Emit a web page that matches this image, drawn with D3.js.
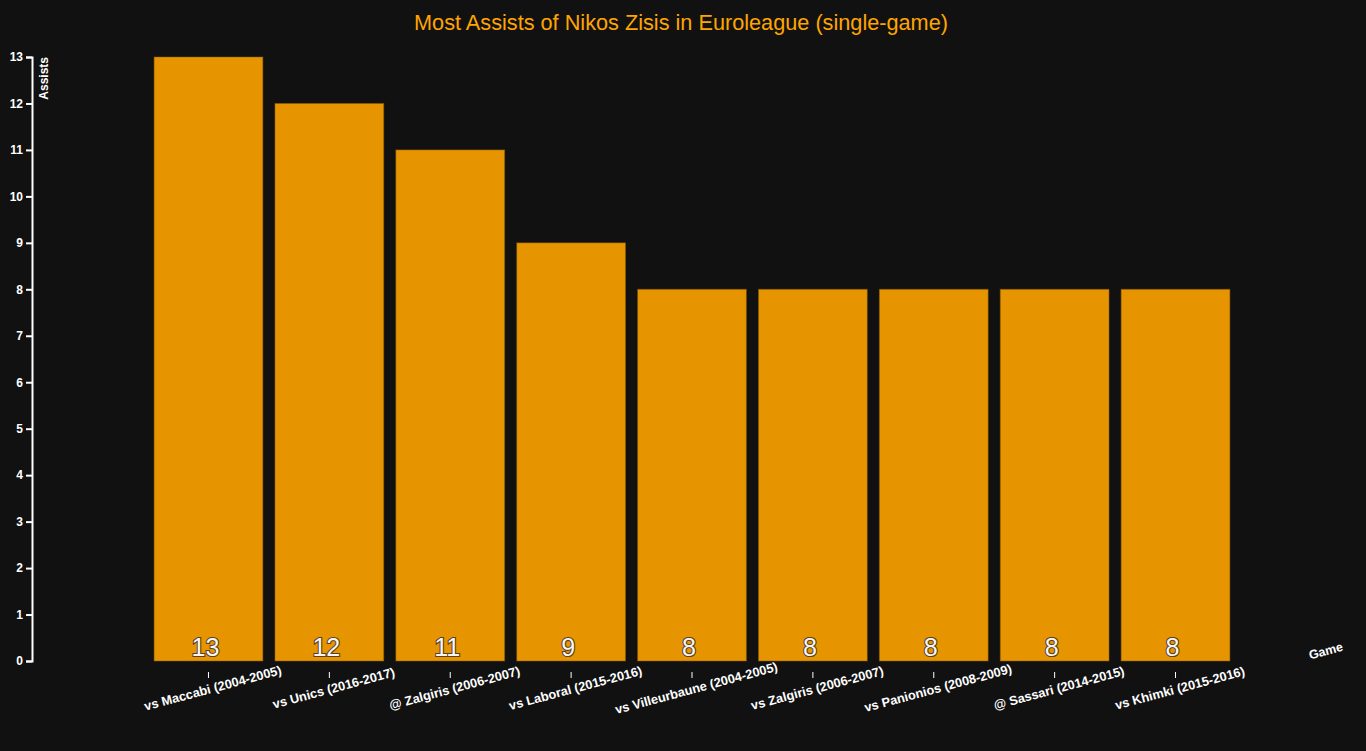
<!DOCTYPE html>
<html>
<head>
<meta charset="utf-8">
<script src="https://cdn.jsdelivr.net/npm/d3@7"></script>
<style>
  html, body { margin: 0; padding: 0; background: #111111; overflow: hidden; }
  svg { display: block; }
  text { font-family: "Liberation Sans", Arial, sans-serif; }
</style>
</head>
<body>
<div class="bar_area"></div>
<script>
var games = ["vs Maccabi (2004-2005)", "vs Unics (2016-2017)", "@ Zalgiris (2006-2007)",
    "vs Laboral (2015-2016)", "vs Villeurbaune (2004-2005)", "vs Zalgiris (2006-2007)",
    "vs Panionios (2008-2009)", "@ Sassari (2014-2015)", "vs Khimki (2015-2016)"];
var assists = [13, 12, 11, 9, 8, 8, 8, 8, 8];
var yTicks = [0, 1, 2, 3, 4, 5, 6, 7, 8, 9, 10, 11, 12, 13];

var width = 1366, height = 751;
var margin = { top: 57, right: 124, bottom: 90, left: 32 },
    w = width - margin.left - margin.right,
    h = height - margin.top - margin.bottom;

var svg = d3.select(".bar_area")
    .append("svg")
    .attr("width", width)
    .attr("height", height);

var g = svg.append("g")
    .attr("transform", "translate(" + margin.left + "," + margin.top + ")");

var data = games.map(function (d, i) { return [d, assists[i]]; });

// title
svg.append("text")
    .attr("x", 681)
    .attr("y", 30)
    .attr("text-anchor", "middle")
    .style("fill", "#ffa500")
    .style("font-size", "21.7px")
    .text("Most Assists of Nikos Zisis in Euroleague (single-game)");

// scales
var x = d3.scaleBand()
    .domain(games)
    .range([110, 1210])
    .padding(0.1);

var y = d3.scaleLinear()
    .domain([0, 13])
    .range([h, 0]);

// y-axis
var y_axis = g.append("g")
    .attr("class", "y_axis")
    .call(d3.axisLeft(y).tickValues(yTicks).tickFormat(d3.format("d")));

y_axis.selectAll("text")
    .style("fill", "#ffffff")
    .style("font-size", "12px")
    .style("font-weight", "bold");
y_axis.selectAll("line").style("stroke", "#ffffff").style("stroke-width", 2);
y_axis.select(".domain").style("stroke", "#ffffff").style("stroke-width", 2);

g.append("text")
    .attr("transform", "rotate(-90)")
    .attr("x", 0)
    .attr("y", 7)
    .attr("dy", "0.71em")
    .attr("text-anchor", "end")
    .style("fill", "#ffffff")
    .style("font-size", "12px")
    .style("font-weight", "bold")
    .text("Assists");

// x-axis
var x_axis = g.append("g")
    .attr("class", "x_axis")
    .attr("transform", "translate(0," + (h + 11) + ")")
    .call(d3.axisBottom(x).tickSizeOuter(0));

x_axis.select(".domain").remove();
x_axis.selectAll("line").style("stroke", "#ffffff");
x_axis.selectAll("text")
    .attr("y", 12)
    .attr("transform", "rotate(-15)")
    .style("text-anchor", "middle")
    .style("fill", "#ffffff")
    .style("font-size", "12.8px")
    .style("font-weight", "bold");

g.append("text")
    .attr("transform", "translate(1295," + (h - 6) + ")rotate(-15)")
    .attr("text-anchor", "middle")
    .style("fill", "#ffffff")
    .style("font-size", "12.5px")
    .style("font-weight", "bold")
    .text("Game");

// bars
g.selectAll("rect.bar_rect")
    .data(data)
    .enter()
    .append("rect")
    .attr("class", "bar_rect")
    .attr("x", function (d) { return x(d[0]); })
    .attr("y", function (d) { return y(d[1]); })
    .attr("width", x.bandwidth())
    .attr("height", function (d) { return h - y(d[1]); })
    .attr("fill", "#e69500")
    .attr("stroke", "#8a5a00")
    .attr("stroke-opacity", 0.5)
    .attr("stroke-width", 1);

// value labels
g.selectAll("text.bar_label")
    .data(data)
    .enter()
    .append("text")
    .attr("class", "bar_label")
    .attr("x", function (d) { return x(d[0]) + x.bandwidth() / 2 - 3; })
    .attr("y", h - 5)
    .attr("text-anchor", "middle")
    .attr("fill", "#f6f6f6")
    .attr("stroke", "#5a4020")
    .attr("stroke-width", 2.2)
    .attr("paint-order", "stroke")
    .style("font-size", "25px")
    .text(function (d) { return d[1]; });
</script>
</body>
</html>
